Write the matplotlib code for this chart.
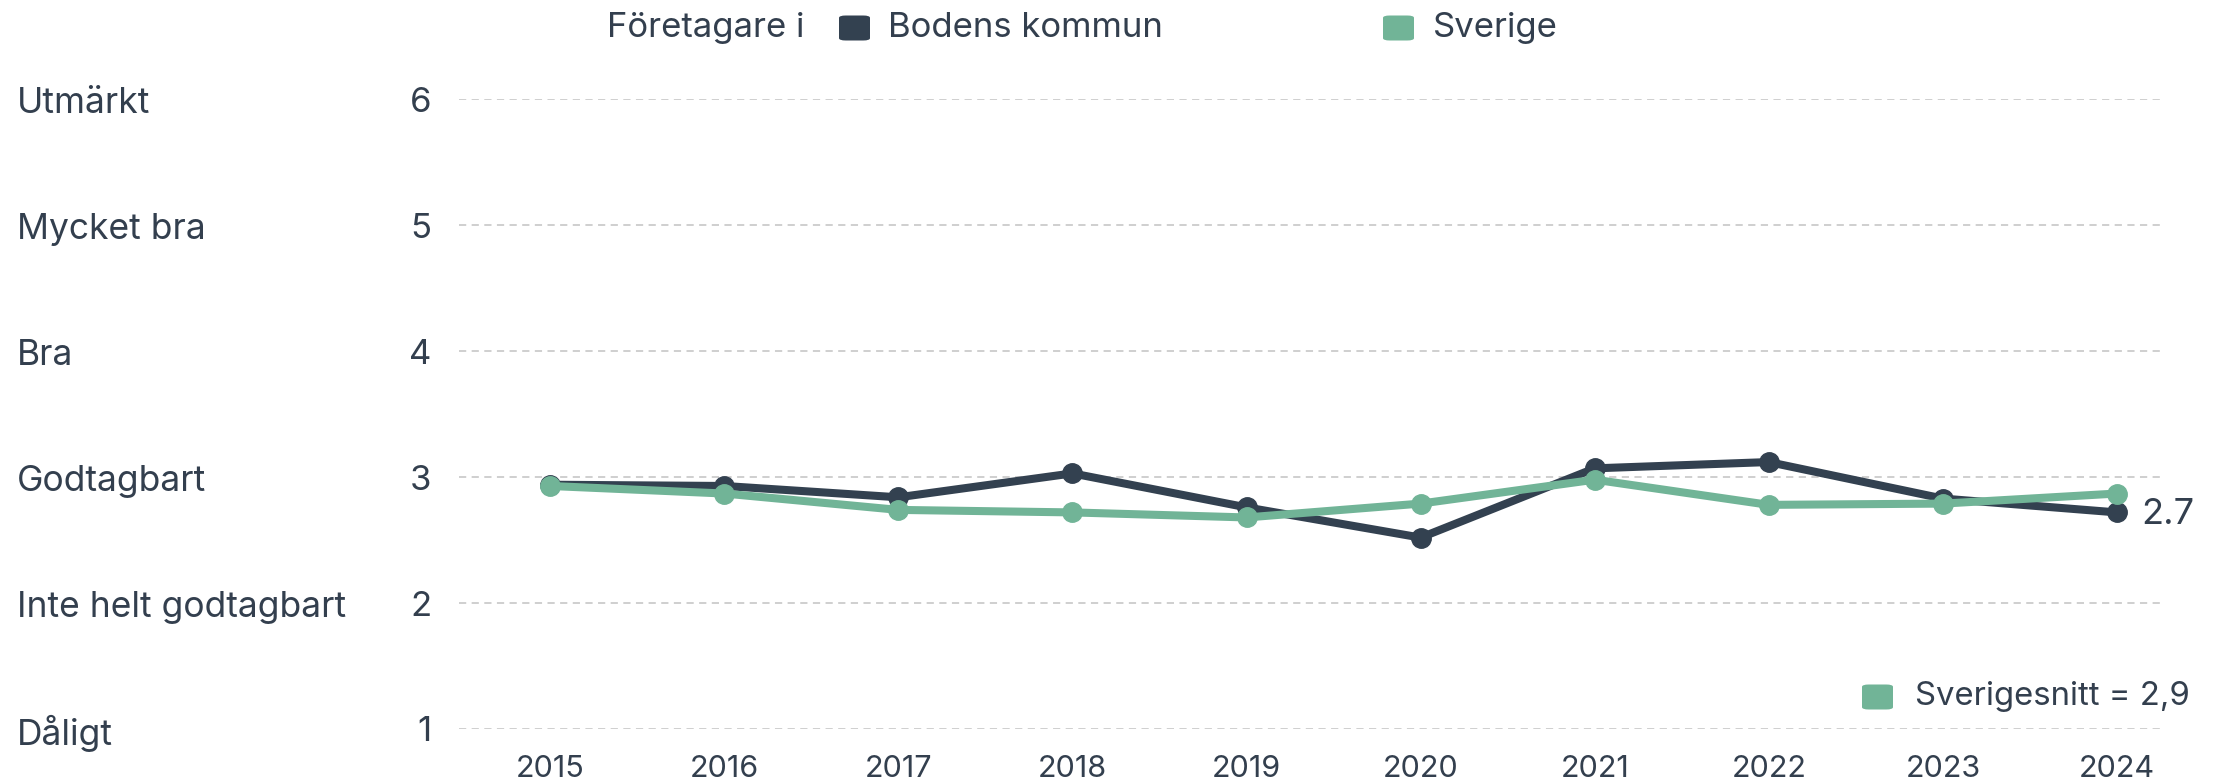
import matplotlib
matplotlib.use("Agg")
import matplotlib.pyplot as plt
from matplotlib.patches import FancyBboxPatch

plt.rcParams['font.family'] = ['Inter', 'DejaVu Sans']

# Data
years = [2015, 2016, 2017, 2018, 2019, 2020, 2021, 2022, 2023, 2024]
boden = [2.94, 2.93, 2.84, 3.03, 2.76, 2.52, 3.07, 3.12, 2.83, 2.72]
sverige = [2.93, 2.87, 2.74, 2.72, 2.68, 2.79, 2.98, 2.78, 2.79, 2.87]
ticks = [1, 2, 3, 4, 5, 6]
betyg = ["Dåligt", "Inte helt godtagbart", "Godtagbart", "Bra", "Mycket bra", "Utmärkt"]
sverigesnitt = 2.9
senaste = 2.7

dark = "#334150"
green = "#71b497"
text_col = "#333f4e"

fig = plt.figure(figsize=(22.29, 7.83), dpi=100)
ax = fig.add_axes([0.206, 0.069, 0.7635, 0.804])

ax.plot(years, boden, color=dark, lw=5.8, marker="o", ms=14, zorder=3, clip_on=False)
ax.plot(years, sverige, color=green, lw=5.8, marker="o", ms=14, zorder=4, clip_on=False)

ax.set_xlim(2014.477, 2024.253)
ax.set_ylim(1, 6)
ax.set_yticks(ticks)
ax.set_yticklabels([str(t) for t in ticks], fontsize=25, color=text_col)
ax.set_xticks(years)
ax.set_xticklabels([str(y) for y in years], fontsize=22, color=text_col)
ax.tick_params(axis="y", length=0, pad=20)
ax.tick_params(axis="x", length=0, pad=19)
ax.grid(axis="y", color="#cccccc", lw=1.3, ls=(0, (4, 3)))
ax.set_axisbelow(True)
for s in ax.spines.values():
    s.set_visible(False)

# Betygsnamn till vänster
for t, namn in zip(ticks, betyg):
    ax.annotate(namn, xy=(0, t), xycoords=("figure fraction", "data"),
                xytext=(17, -4), textcoords="offset pixels",
                ha="left", va="center", fontsize=25.5, color=text_col)

# Senaste värdet
ax.annotate(f"{senaste}", xy=(years[-1], senaste), xytext=(24, 0),
            textcoords="offset pixels", ha="left", va="center",
            fontsize=26, color=text_col)

# Legend överst
ytop = 1 - 28 / 783
fig.text(607 / 2229, ytop, "Företagare i", ha="left", va="center",
         fontsize=25, color=text_col)


def ruta(x, y, col):
    w, h = 31 / 2229, 25 / 783
    fig.patches.append(FancyBboxPatch((x, y - h / 2), w, h,
                                      boxstyle="round,pad=0,rounding_size=0.003",
                                      transform=fig.transFigure, fc=col, ec="none"))


ruta(839 / 2229, ytop, dark)
fig.text(888 / 2229, ytop, "Bodens kommun", ha="left", va="center",
         fontsize=25, color=text_col)
ruta(1383 / 2229, ytop, green)
fig.text(1433 / 2229, ytop, "Sverige", ha="left", va="center",
         fontsize=25, color=text_col)

# Sverigesnitt
ruta(1862 / 2229, 1 - 697 / 783, green)
fig.text(1915 / 2229, 1 - 697 / 783, f"Sverigesnitt = {str(sverigesnitt).replace('.', ',')}",
         ha="left", va="center", fontsize=23.7, color=text_col)

fig.savefig("out.png", dpi=100)
